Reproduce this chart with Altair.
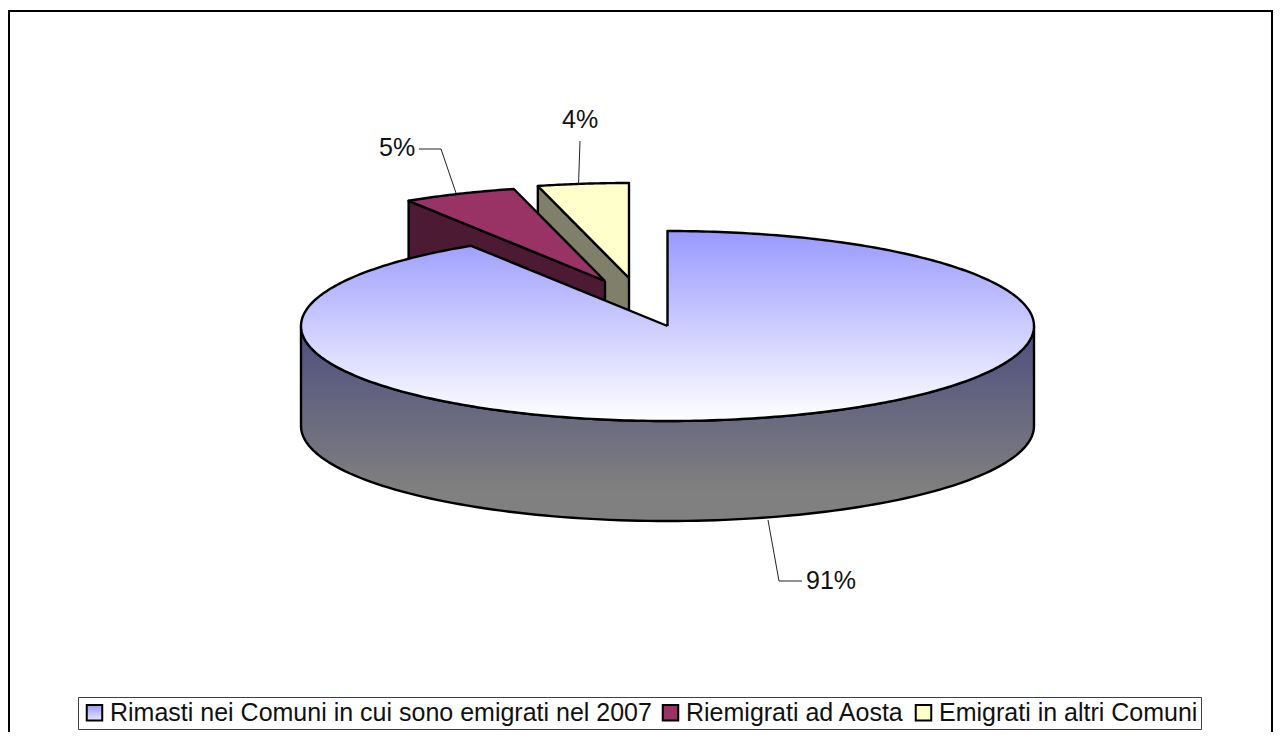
import math
import altair as alt
import pandas as pd

categories = ["Rimasti nei Comuni in cui sono emigrati nel 2007", "Riemigrati ad Aosta", "Emigrati in altri Comuni"]
values = [91, 5, 4]
legend_colors = [
    {"expr": "{gradient:'linear',x1:0,x2:0,y1:0,y2:1,stops:[{offset:0,color:'#9999FF'},{offset:1,color:'#E8E8FF'}]}"},
    "#993366",
    "#FFFFCC",
]

FONT = "Liberation Sans"
W, H = 1265, 724
CX, CY, RX, RY, DEPTH = 667.5, 326, 366.5, 95, 100
OFFSETS = [(0, 0), (-62.5, -45), (-38.5, -48)]

xs = alt.Scale(domain=[8, 8 + W], range=[0, W], nice=False, zero=False)
ys = alt.Scale(domain=[8, 8 + H], range=[0, H], nice=False, zero=False)


def rim(deg, dx=0, dy=0):
    a = math.radians(deg)
    return (CX + dx + RX * math.sin(a), CY + dy - RY * math.cos(a))


def arc(a0, a1, dx=0, dy=0, n=120):
    return [rim(a0 + (a1 - a0) * i / n, dx, dy) for i in range(n + 1)]


def poly(points, fill, stroke="black", width=2.4):
    pts = list(points) + [points[0]]
    df = pd.DataFrame({"px": [p[0] for p in pts], "py": [p[1] for p in pts], "i": range(len(pts))})
    return alt.Chart(df).mark_line(fill=fill, stroke=stroke, strokeWidth=width, strokeJoin="round").encode(
        x=alt.X("px:Q", scale=xs, axis=None),
        y=alt.Y("py:Q", scale=ys, axis=None),
        order=alt.Order("i:Q"),
    )


def path(points, stroke="#222222", width=1.0):
    df = pd.DataFrame({"px": [p[0] for p in points], "py": [p[1] for p in points], "i": range(len(points))})
    return alt.Chart(df).mark_line(stroke=stroke, strokeWidth=width).encode(
        x=alt.X("px:Q", scale=xs, axis=None),
        y=alt.Y("py:Q", scale=ys, axis=None),
        order=alt.Order("i:Q"),
    )


def grad(stops):
    return alt.Gradient(
        gradient="linear", x1=0, x2=0, y1=0, y2=1,
        stops=[alt.GradientStop(color=c, offset=o) for o, c in stops],
    )


total = sum(values)
bounds = [0]
for v in values:
    bounds.append(bounds[-1] + 360 * v / total)

layers = []

# frame
layers.append(path([(9, 732), (9, 11), (1272, 11), (1272, 732)], stroke="black", width=2))

# exploded slices: yellow first, then maroon
for idx, side_col, top_col in [(2, "#80806A", "#FFFFCC"), (1, "#4D1A33", "#993366")]:
    dx, dy = OFFSETS[idx]
    a0, a1 = bounds[idx], bounds[idx + 1]
    ax, ay = CX + dx, CY + dy
    r0 = rim(a0, dx, dy)
    layers.append(poly([(ax, ay), r0, (r0[0], r0[1] + DEPTH), (ax, ay + DEPTH)], side_col))
    layers.append(poly([(ax, ay)] + arc(a0, a1, dx, dy, 30), top_col))

# main slice: side, then top
front = arc(90, 270)
back = [(x, y + DEPTH) for x, y in reversed(front)]
layers.append(poly(front + back, grad([(0, "#4E4E80"), (0.85, "#808080"), (1, "#808080")])))
layers.append(poly([(CX, CY)] + arc(bounds[0], bounds[1], n=360), grad([(0, "#9999FF"), (1, "#FFFFFF")])))

# leader lines
layers.append(path([(419, 149), (441, 149), (456, 193)]))
layers.append(path([(580, 141), (578.5, 185)]))
layers.append(path([(768, 520), (779, 581), (802, 581)]))

# data labels
lab = pd.DataFrame({
    "t": [f"{v}%" for v in values],
    "px": [806, 379, 562],
    "py": [581, 148, 120],
})
layers.append(alt.Chart(lab).mark_text(font=FONT, fontSize=25, align="left", baseline="middle", color="#111111").encode(
    x=alt.X("px:Q", scale=xs, axis=None),
    y=alt.Y("py:Q", scale=ys, axis=None),
    text="t:N",
))

# legend carrier
leg = pd.DataFrame({"cat": categories, "px": [CX] * 3, "py": [CY] * 3})
layers.append(alt.Chart(leg).mark_square(size=0, filled=True).encode(
    x=alt.X("px:Q", scale=xs, axis=None),
    y=alt.Y("py:Q", scale=ys, axis=None),
    color=alt.Color("cat:N", scale=alt.Scale(domain=categories, range=legend_colors), legend=alt.Legend(
        title=None, orient="none", legendX=70, legendY=689, direction="horizontal", columns=3,
        symbolType="square", symbolSize=240, symbolStrokeColor="black", symbolStrokeWidth=2, symbolOpacity=1,
        labelFont=FONT, labelFontSize=25, labelColor="#111111", labelLimit=700, labelOffset=3,
        columnPadding=5, padding=3, symbolOffset=1, strokeColor="#404040", fillColor="white",
    )),
))

chart = alt.layer(*layers).properties(
    width=W, height=H, padding=0, autosize=alt.AutoSizeParams(type="none"), background="white",
).configure_view(stroke=None)

chart.save("out.html", embed_options={"renderer": "svg", "actions": False})
